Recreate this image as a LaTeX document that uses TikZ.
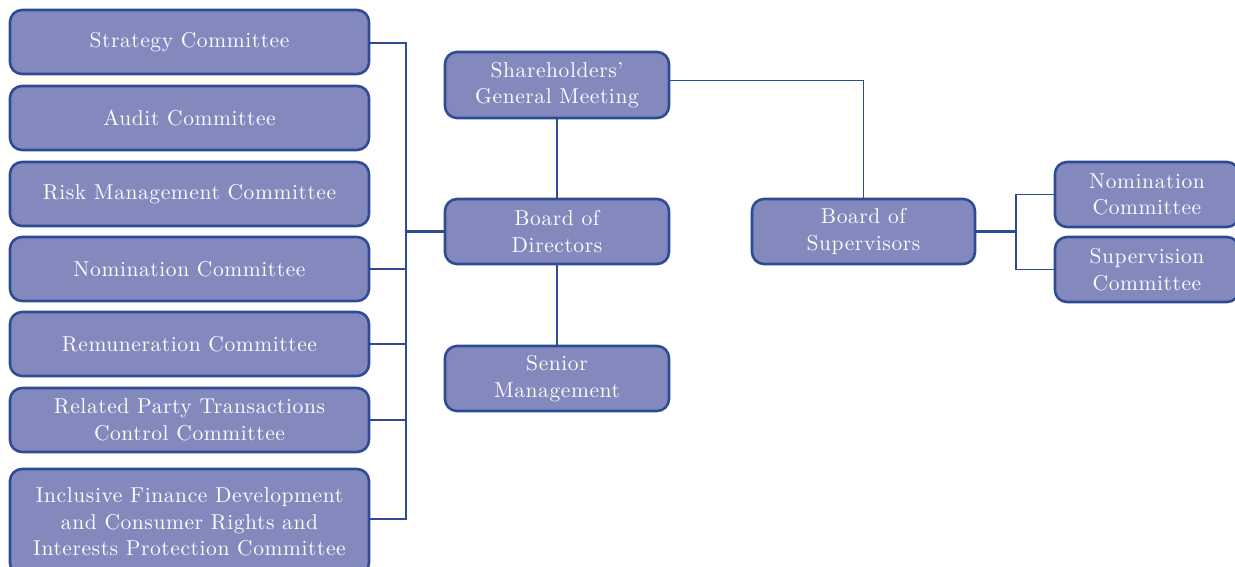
\documentclass[tikz,border=0pt]{standalone}
\usepackage{fontspec}
\newfontfamily\boxfont{lmroman10-regular.otf}[LetterSpace=2.7,Ligatures=TeX]
\definecolor{boxfill}{HTML}{8489BD}
\definecolor{boxline}{HTML}{2F4B96}
\definecolor{boxtext}{HTML}{FCFCFF}
\begin{document}
\begin{tikzpicture}[x=1pt,y=-1pt,
  orgbox/.style={draw=boxline, line width=2.6pt, fill=boxfill, rounded corners=12pt,
    text=boxtext, align=center, inner sep=0pt,
    font=\boxfont\fontsize{21.5}{26.5}\selectfont},
  link/.style={draw=boxline, line width=2.2pt},
  thin/.style={draw=boxline, line width=1.6pt}]
\useasboundingbox (0,0) rectangle (1235,566);
% left committees
\node[orgbox, minimum width=359pt, minimum height=64pt] (strat) at (189.5,42) {Strategy Committee};
\node[orgbox, minimum width=359pt, minimum height=64pt] (audit) at (189.5,118) {Audit Committee};
\node[orgbox, minimum width=359pt, minimum height=64pt] (risk) at (189.5,194) {Risk Management Committee};
\node[orgbox, minimum width=359pt, minimum height=64pt] (nom) at (189.5,269) {Nomination Committee};
\node[orgbox, minimum width=359pt, minimum height=64pt] (rem) at (189.5,344) {Remuneration Committee};
\node[orgbox, minimum width=359pt, minimum height=64pt] (rpt) at (189.5,420) {Related Party Transactions\\Control Committee};
\node[orgbox, minimum width=359pt, minimum height=106pt] (incl) at (189.5,522) {Inclusive Finance Development\\and Consumer Rights and\\Interests Protection Committee};
% centre column
\node[orgbox, minimum width=224pt, minimum height=66pt] (sgm) at (557,85) {Shareholders’\\General Meeting};
\node[orgbox, minimum width=224pt, minimum height=65pt] (bod) at (557,231.5) {Board of\\Directors};
\node[orgbox, minimum width=224pt, minimum height=65pt] (sm) at (557,378.5) {Senior\\Management};
\node[orgbox, minimum width=223pt, minimum height=65pt] (bos) at (863.5,231.5) {Board of\\Supervisors};
% right committees
\node[orgbox, minimum width=184pt, minimum height=65pt] (snom) at (1147,194.5) {Nomination\\Committee};
\node[orgbox, minimum width=184pt, minimum height=65pt] (ssup) at (1147,269.5) {Supervision\\Committee};
% connectors
\coordinate (bus) at (406,231.5);
\draw[link] (strat.east |- 0,43) -| (406,519) -- (incl.east |- 0,519);
\draw[link] (bod.west) -- (bus);
\draw[link] (nom.east) -- (406,269);
\draw[link] (rem.east) -- (406,344);
\draw[link] (rpt.east) -- (406,420);
\draw[link] (sgm.south) -- (bod.north);
\draw[link] (bod.south) -- (sm.north);
\draw[thin] (sgm.east |- 0,80.5) -| (bos.north);
\draw[link] (bos.east) -- (1016,231.5);
\draw[thin] (snom.west) -| (1016,269.5) -- (ssup.west);
\draw[link] (1016,194.5) -- (1016,269.5);
\end{tikzpicture}
\end{document}
